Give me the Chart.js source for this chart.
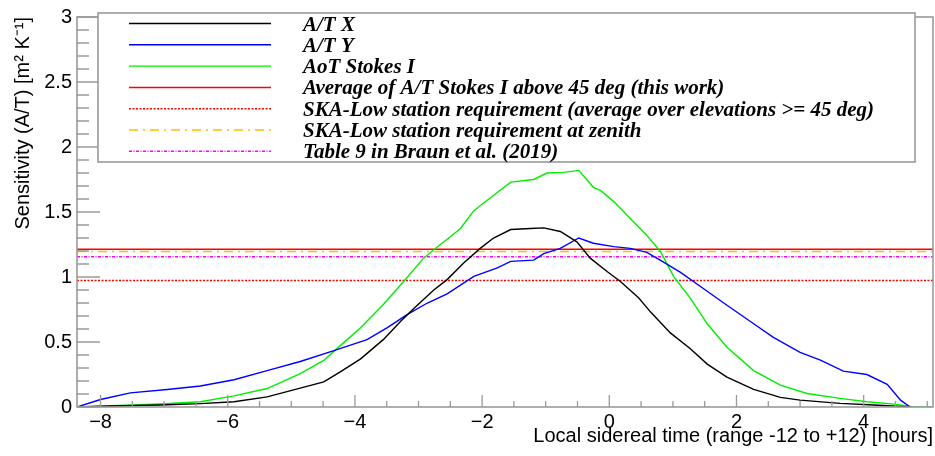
<!DOCTYPE html>
<html lang="en">
<head>
<meta charset="UTF-8">
<title>A/T sensitivity vs LST</title>
<script src="https://cdn.jsdelivr.net/npm/chart.js"></script>
<style>
  html, body { margin: 0; padding: 0; background: #fff; }
  #wrap { width: 935px; height: 456px; }
</style>
</head>
<body>
<div id="wrap"><canvas id="sens"></canvas></div>
<script>
// Values: local sidereal time [h] vs sensitivity A/T [m^2 K^-1]
const lstX = [-8.37, -7.84, -7.06, -6.43, -5.90, -5.38, -4.86, -4.49, -4.23, -3.91,
              -3.55, -3.28, -3.07, -2.76, -2.55, -2.29, -2.03, -1.82, -1.55, -1.24,
              -1.03, -0.77, -0.51, -0.30, -0.03, 0.17, 0.46, 0.65, 0.96, 1.27,
              1.54, 1.85, 2.27, 2.69, 3.00, 3.63, 4.16, 4.73];
const atX = [0, 0.008, 0.015, 0.026, 0.04, 0.078, 0.145, 0.193, 0.27, 0.37,
             0.52, 0.66, 0.76, 0.90, 0.98, 1.107, 1.22, 1.30, 1.365, 1.373,
             1.378, 1.35, 1.27, 1.145, 1.04, 0.967, 0.84, 0.73, 0.57, 0.45,
             0.33, 0.23, 0.135, 0.074, 0.053, 0.028, 0.015, 0];

const lstY = [-8.37, -8.0, -7.53, -6.95, -6.43, -5.90, -5.38, -4.86, -4.33, -3.81,
              -3.49, -3.18, -2.86, -2.55, -2.13, -1.76, -1.55, -1.19, -1.03, -0.77,
              -0.48, -0.25, 0.07, 0.33, 0.59, 0.80, 1.12, 1.54, 1.80, 2.27,
              2.58, 3.00, 3.32, 3.68, 4.05, 4.37, 4.58, 4.73];
const atY = [0, 0.058, 0.109, 0.135, 0.162, 0.21, 0.28, 0.35, 0.434, 0.518,
             0.61, 0.71, 0.80, 0.87, 1.005, 1.07, 1.12, 1.13, 1.18, 1.22,
             1.30, 1.26, 1.234, 1.22, 1.19, 1.13, 1.035, 0.89, 0.80, 0.64,
             0.535, 0.42, 0.36, 0.276, 0.25, 0.175, 0.053, 0];

const lstI = [-8.37, -7.06, -6.43, -5.90, -5.38, -4.86, -4.49, -4.23, -3.91, -3.55,
              -3.22, -2.92, -2.76, -2.50, -2.34, -2.13, -1.92, -1.55, -1.19, -0.98,
              -0.72, -0.48, -0.25, -0.14, 0.07, 0.33, 0.59, 0.80, 1.01, 1.27,
              1.54, 1.85, 2.27, 2.69, 3.11, 3.63, 4.05, 4.52, 4.79, 5.08];
const aotI = [0, 0.023, 0.04, 0.086, 0.142, 0.257, 0.358, 0.472, 0.61, 0.79,
              0.973, 1.145, 1.21, 1.31, 1.373, 1.51, 1.59, 1.73, 1.75, 1.80,
              1.805, 1.82, 1.69, 1.666, 1.58, 1.45, 1.32, 1.20, 1.005, 0.84,
              0.64, 0.46, 0.28, 0.168, 0.104, 0.066, 0.04, 0.02, 0, 0];

// horizontal reference levels
const refLabels = [
  'Average of A/T Stokes I above 45 deg (this work)',
  'SKA-Low station requirement (average over elevations >= 45 deg)',
  'SKA-Low station requirement at zenith',
  'Table 9 in Braun et al. (2019)'
];
const refValues = [1.213, 0.973, 1.196, 1.155];

const curveLabels = ['A/T X', 'A/T Y', 'AoT Stokes I'];

const xMin = -8.37, xMax = 5.09;
const yMin = 0, yMax = 3;

function pts(xs, ys) {
  return xs.map((x, i) => ({ x: x, y: ys[i] }));
}
function level(v) {
  return [{ x: xMin, y: v }, { x: xMax, y: v }];
}

const curveStyle = [
  { color: '#000000', dash: [] },
  { color: '#0000ff', dash: [] },
  { color: '#00ee00', dash: [] }
];
const refStyle = [
  { color: '#ff0000', dash: [] },
  { color: '#ff0000', dash: [2, 1.5] },
  { color: '#ffbf00', dash: [9, 5, 2, 5] },
  { color: '#ff00ff', dash: [3, 1.5, 1, 1.5] }
];

const datasets = [];
[[lstX, atX], [lstY, atY], [lstI, aotI]].forEach((d, i) => {
  datasets.push({
    label: curveLabels[i],
    data: pts(d[0], d[1]),
    borderColor: curveStyle[i].color,
    borderDash: curveStyle[i].dash,
    borderWidth: 1.4,
    pointRadius: 0,
    tension: 0
  });
});
refValues.forEach((v, i) => {
  datasets.push({
    label: refLabels[i],
    data: level(v),
    borderColor: refStyle[i].color,
    borderDash: refStyle[i].dash,
    borderWidth: 1.5,
    pointRadius: 0
  });
});

// ROOT-like frame with ticks drawn inside the plot
const frameTicks = {
  id: 'frameTicks',
  afterDatasetsDraw(chart) {
    const ctx = chart.ctx, a = chart.chartArea;
    const xs = chart.scales.x, ys = chart.scales.y;
    ctx.save();
    ctx.strokeStyle = '#9a9a9a';
    ctx.lineWidth = 1.3;
    ctx.beginPath();
    for (let k = Math.ceil(xs.min * 2); k / 2 <= xs.max; k++) {
      const px = xs.getPixelForValue(k / 2);
      const len = (k % 4 === 0) ? 12 : 6;
      ctx.moveTo(px, a.bottom);
      ctx.lineTo(px, a.bottom - len);
    }
    for (let k = Math.ceil(ys.min * 10); k / 10 <= ys.max + 1e-9; k++) {
      const py = ys.getPixelForValue(k / 10);
      const len = (k % 5 === 0) ? 23 : 12;
      ctx.moveTo(a.left, py);
      ctx.lineTo(a.left + len, py);
    }
    ctx.stroke();
    ctx.lineWidth = 1.6;
    ctx.strokeRect(a.left, a.top, a.right - a.left, a.bottom - a.top);
    ctx.restore();
  }
};

// boxed legend in the upper part of the pad
const boxLegend = {
  id: 'boxLegend',
  afterDraw(chart, args, opts) {
    const ctx = chart.ctx;
    const b = opts.box;
    ctx.save();
    ctx.fillStyle = '#fff';
    ctx.fillRect(b.left, b.top, b.right - b.left, b.bottom - b.top);
    ctx.strokeStyle = '#9a9a9a';
    ctx.lineWidth = 1.6;
    ctx.strokeRect(b.left, b.top, b.right - b.left, b.bottom - b.top);
    ctx.font = 'italic bold 21px "Liberation Serif", "Times New Roman", serif';
    ctx.textBaseline = 'alphabetic';
    ctx.textAlign = 'left';
    chart.data.datasets.forEach((ds, i) => {
      const y = b.firstRow + i * b.rowStep;
      ctx.strokeStyle = ds.borderColor;
      ctx.lineWidth = ds.borderWidth;
      ctx.setLineDash(ds.borderDash || []);
      ctx.beginPath();
      ctx.moveTo(b.lineFrom, y);
      ctx.lineTo(b.lineTo, y);
      ctx.stroke();
      ctx.setLineDash([]);
      ctx.fillStyle = '#000';
      ctx.fillText(ds.label, b.textX, y + 7);
    });
    ctx.restore();
  }
};

const sansFont = { family: '"Liberation Sans", Arial, Helvetica, sans-serif', size: 20 };

new Chart(document.getElementById('sens'), {
  type: 'line',
  data: { datasets: datasets },
  options: {
    responsive: true,
    maintainAspectRatio: false,
    animation: false,
    layout: { padding: { top: 13, right: 2, left: 0, bottom: 0 } },
    plugins: {
      legend: { display: false },
      tooltip: { enabled: false },
      boxLegend: {
        box: { left: 98, top: 13, right: 915, bottom: 162,
               firstRow: 23.5, rowStep: 21.3, lineFrom: 129, lineTo: 271, textX: 303 }
      }
    },
    scales: {
      x: {
        type: 'linear',
        min: xMin,
        max: xMax,
        grid: { display: false, drawTicks: false },
        border: { display: false },
        ticks: {
          stepSize: 2,
          includeBounds: false,
          padding: 3,
          color: '#000',
          font: sansFont,
          maxRotation: 0,
          callback: v => v < 0 ? '\u2212' + Math.abs(v) : String(v)
        },
        title: {
          display: true,
          text: 'Local sidereal time (range -12 to +12) [hours]',
          align: 'end',
          color: '#000',
          font: sansFont,
          padding: { top: 0, bottom: 8 }
        },
        afterFit(scale) { scale.height = 49; }
      },
      y: {
        min: yMin,
        max: yMax,
        grid: { display: false, drawTicks: false },
        border: { display: false },
        ticks: {
          stepSize: 0.5,
          padding: 5,
          color: '#000',
          font: sansFont,
          callback: v => String(Math.round(v * 10) / 10)
        },
        title: {
          display: true,
          text: 'Sensitivity (A/T) [m\u00b2 K\u207b\u00b9]',
          align: 'end',
          color: '#000',
          font: sansFont,
          padding: { top: 11, bottom: 0 }
        },
        afterFit(scale) { scale.width = 77; }
      }
    }
  },
  plugins: [frameTicks, boxLegend]
});
</script>
</body>
</html>
